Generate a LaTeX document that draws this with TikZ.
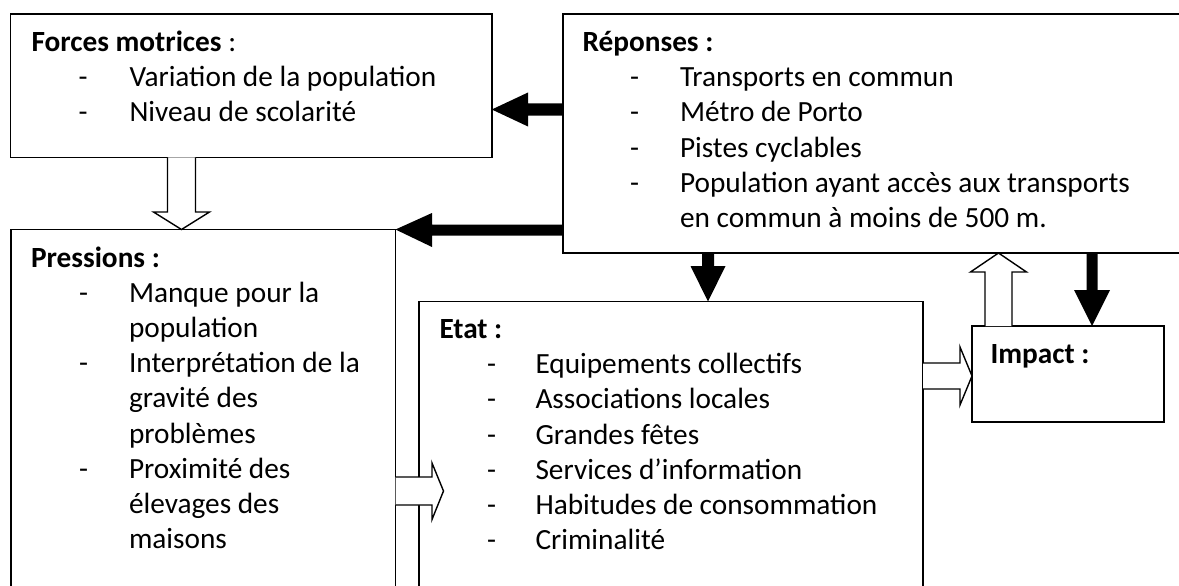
\documentclass[tikz,border=0pt]{standalone}
\usepackage{fontspec}
\setmainfont{Carlito}
\begin{document}
\begin{tikzpicture}[x=1pt,y=-1pt,
  box/.style={draw, line width=1.4pt, anchor=north west, inner sep=0pt, outer sep=0pt},
  txt/.style={anchor=base west, inner sep=0pt, outer sep=0pt, font=\fontsize{29.3}{35}\selectfont},
  openarr/.style={draw, fill=white, line width=1.4pt, line join=miter},
  solidarr/.style={fill=black}]
\useasboundingbox (0,0) rectangle (1179,586);
\clip (0,0) rectangle (1179,586);
\fill[white] (0,0) rectangle (1179,586);

% boxes
\node[box, minimum width=481.1pt, minimum height=143.3pt] (forces) at (10.7,14) {};
\node[box, minimum width=640pt, minimum height=239pt] (rep) at (563,14) {};
\node[box, minimum width=384.5pt, minimum height=380pt] (pres) at (11,229.5) {};
\node[box, minimum width=504pt, minimum height=300pt] (etat) at (419,301.5) {};
\node[box, minimum width=192pt, minimum height=96pt] (impact) at (972,326) {};

% open block arrows
\filldraw[openarr] (forces.south -| 167.5,0) -- (167.5,212) -- (153.5,212) -- (pres.north -| 181.5,0) -- (209.5,212) -- (195.5,212) -- (forces.south -| 195.5,0);
\filldraw[openarr] (pres.east |- 0,477) -- (432,477) -- (432,463) -- (443.5,491) -- (432,519.5) -- (432,505) -- (pres.east |- 0,505);
\filldraw[openarr] (etat.east |- 0,363) -- (960,363) -- (960,347) -- (impact.west |- 0,376) -- (960,405) -- (960,389) -- (etat.east |- 0,389);
\filldraw[openarr] (impact.north -| 985,0) -- (985,272) -- (970.5,272) -- (rep.south -| 998.5,0) -- (1026.5,272) -- (1012,272) -- (impact.north -| 1012,0);

% solid block arrows
\fill[solidarr] (rep.west |- 0,103.5) -- (528,103.5) -- (528,92.5) -- (forces.east |- 0,109.5) -- (528,126.5) -- (528,115.5) -- (rep.west |- 0,115.5) -- cycle;
\fill[solidarr] (rep.west |- 0,224.5) -- (432,224.5) -- (432,213) -- (pres.north east) -- (432,247) -- (432,235.5) -- (rep.west |- 0,235.5) -- cycle;
\fill[solidarr] (rep.south -| 702,0) -- (702,266) -- (690.5,266) -- (etat.north -| 708,0) -- (725.5,266) -- (714,266) -- (rep.south -| 714,0) -- cycle;
\fill[solidarr] (rep.south -| 1086.5,0) -- (1086.5,290) -- (1074,290) -- (impact.north -| 1092,0) -- (1110,290) -- (1097.5,290) -- (rep.south -| 1097.5,0) -- cycle;

% Forces motrices
\node[txt] (fh) at (31.5,51.5) {\textbf{Forces motrices} :};
\node[txt] (fd1) at (78.5,86.7) {-};
\node[txt] (f1) at (129.5,86.7) {Variation de la population};
\node[txt] (fd2) at (78.5,121.9) {-};
\node[txt] (f2) at (129.5,121.9) {Niveau de scolarité};

% Reponses
\node[txt] (rh) at (582.5,51.5) {\textbf{Réponses :}};
\node[txt] (rd1) at (630,86.7) {-};
\node[txt] (r1) at (680,86.7) {Transports en commun};
\node[txt] (rd2) at (630,121.9) {-};
\node[txt] (r2) at (680,121.9) {Métro de Porto};
\node[txt] (rd3) at (630,157.1) {-};
\node[txt] (r3) at (680,157.1) {Pistes cyclables};
\node[txt] (rd4) at (630,192.3) {-};
\node[txt] (r4) at (680,192.3) {Population ayant accès aux transports};
\node[txt] (r5) at (680,227.5) {en commun à moins de 500 m.};

% Pressions
\node[txt] (ph) at (31,267) {\textbf{Pressions :}};
\node[txt] (pd1) at (79,302.2) {-};
\node[txt] (p1) at (129,302.2) {Manque pour la};
\node[txt] (p2) at (129,337.4) {population};
\node[txt] (pd3) at (79,372.6) {-};
\node[txt] (p3) at (129,372.6) {Interprétation de la};
\node[txt] (p4) at (129,407.8) {gravité des};
\node[txt] (p5) at (129,443) {problèmes};
\node[txt] (pd6) at (79,478.2) {-};
\node[txt] (p6) at (129,478.2) {Proximité des};
\node[txt] (p7) at (129,513.4) {élevages des};
\node[txt] (p8) at (129,548.6) {maisons};

% Etat
\node[txt] (eh) at (439.5,338.5) {\textbf{Etat :}};
\node[txt] (ed1) at (487,373.7) {-};
\node[txt] (e1) at (535.5,373.7) {Equipements collectifs};
\node[txt] (ed2) at (487,408.9) {-};
\node[txt] (e2) at (535.5,408.9) {Associations locales};
\node[txt] (ed3) at (487,444.1) {-};
\node[txt] (e3) at (535.5,444.1) {Grandes fêtes};
\node[txt] (ed4) at (487,479.3) {-};
\node[txt] (e4) at (535.5,479.3) {Services d’information};
\node[txt] (ed5) at (487,514.5) {-};
\node[txt] (e5) at (535.5,514.5) {Habitudes de consommation};
\node[txt] (ed6) at (487,549.7) {-};
\node[txt] (e6) at (535.5,549.7) {Criminalité};

% Impact
\node[txt] (ih) at (990.5,363) {\textbf{Impact :}};
\end{tikzpicture}
\end{document}
